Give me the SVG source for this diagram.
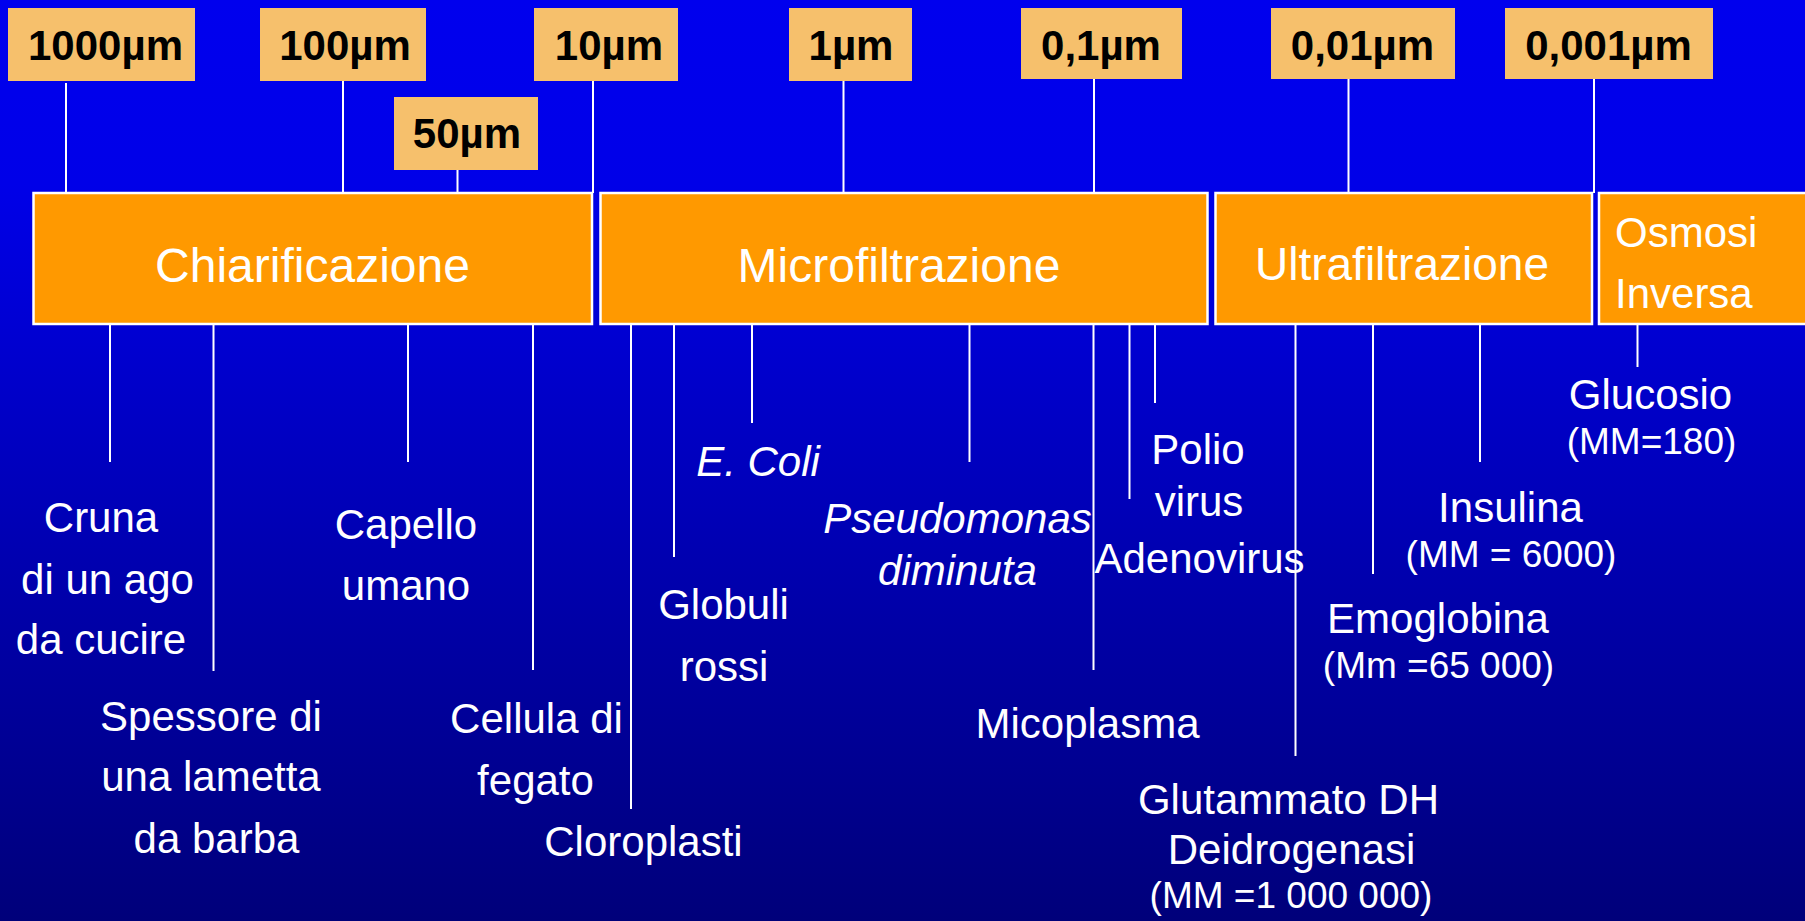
<svg xmlns="http://www.w3.org/2000/svg" width="1805" height="921" viewBox="0 0 1805 921">
<defs>
<linearGradient id="bg" x1="0" y1="0" x2="0" y2="1">
<stop offset="0" stop-color="#0000EE"/>
<stop offset="0.2" stop-color="#0000E8"/>
<stop offset="1" stop-color="#00007A"/>
</linearGradient>
</defs>
<style>
.tag{fill:#F6C06C}
.tagt{font-family:"Liberation Sans",Arial,sans-serif;font-weight:bold;font-size:42px;fill:#000;text-anchor:middle}
.box{fill:#FF9900;stroke:#FFFFFF;stroke-width:2.5}
.boxt{font-family:"Liberation Sans",Arial,sans-serif;font-size:48px;fill:#FFFFFF;text-anchor:middle}
.lbl{font-family:"Liberation Sans",Arial,sans-serif;font-size:42px;fill:#FFFFFF;text-anchor:middle}
.sm{font-size:37px}
.it{font-style:italic}
.con line{stroke:#FFFFFF;stroke-width:2}
</style>
<rect x="0" y="0" width="1805" height="921" fill="url(#bg)"/>

<g id="connectors" class="con">
<line x1="66" y1="83" x2="66" y2="193"/>
<line x1="343" y1="81" x2="343" y2="193"/>
<line x1="457.5" y1="170" x2="457.5" y2="193"/>
<line x1="593" y1="81" x2="593" y2="193"/>
<line x1="843.5" y1="81" x2="843.5" y2="193"/>
<line x1="1094" y1="79" x2="1094" y2="193"/>
<line x1="1348.5" y1="79" x2="1348.5" y2="193"/>
<line x1="1594" y1="79" x2="1594" y2="193"/>
<line x1="110" y1="325" x2="110" y2="462"/>
<line x1="213.5" y1="325" x2="213.5" y2="671"/>
<line x1="408" y1="325" x2="408" y2="462"/>
<line x1="533" y1="325" x2="533" y2="670"/>
<line x1="631" y1="325" x2="631" y2="809"/>
<line x1="674" y1="325" x2="674" y2="557"/>
<line x1="752" y1="325" x2="752" y2="423"/>
<line x1="969.5" y1="325" x2="969.5" y2="462"/>
<line x1="1093.5" y1="325" x2="1093.5" y2="670"/>
<line x1="1129.5" y1="325" x2="1129.5" y2="499"/>
<line x1="1155" y1="325" x2="1155" y2="403"/>
<line x1="1295.5" y1="325" x2="1295.5" y2="756"/>
<line x1="1373" y1="325" x2="1373" y2="574"/>
<line x1="1480" y1="325" x2="1480" y2="462"/>
<line x1="1637.5" y1="325" x2="1637.5" y2="367"/>
</g>

<g id="tag-1000"><rect class="tag" x="8" y="8" width="187" height="73"/><text class="tagt" x="105.5" y="60">1000µm</text></g>
<g id="tag-100"><rect class="tag" x="260" y="8" width="166" height="73"/><text class="tagt" x="345" y="60">100µm</text></g>
<g id="tag-50"><rect class="tag" x="394" y="97" width="144" height="73"/><text class="tagt" x="467" y="148">50µm</text></g>
<g id="tag-10"><rect class="tag" x="534" y="8" width="144" height="73"/><text class="tagt" x="609" y="60">10µm</text></g>
<g id="tag-1"><rect class="tag" x="789" y="8" width="123" height="73"/><text class="tagt" x="851" y="60">1µm</text></g>
<g id="tag-01"><rect class="tag" x="1021" y="8" width="161" height="71"/><text class="tagt" x="1101" y="60">0,1µm</text></g>
<g id="tag-001"><rect class="tag" x="1271" y="8" width="184" height="71"/><text class="tagt" x="1362.5" y="60">0,01µm</text></g>
<g id="tag-0001"><rect class="tag" x="1505" y="8" width="208" height="71"/><text class="tagt" x="1608.5" y="60">0,001µm</text></g>

<g id="chiarificazione"><rect class="box" x="33.5" y="193" width="558.5" height="131"/><text class="boxt" x="312.5" y="282">Chiarificazione</text></g>
<g id="microfiltrazione"><rect class="box" x="600.5" y="193" width="607" height="131"/><text class="boxt" x="899" y="282">Microfiltrazione</text></g>
<g id="ultrafiltrazione"><rect class="box" x="1215.5" y="193" width="376.5" height="131"/><text class="boxt" x="1402" y="280" style="font-size:46px">Ultrafiltrazione</text></g>
<g id="osmosi-inversa"><rect class="box" x="1599" y="193" width="220" height="131"/><text class="lbl" x="1615" y="247" style="text-anchor:start">Osmosi</text><text class="lbl" x="1615" y="308" style="text-anchor:start">Inversa</text></g>

<g id="cruna"><text class="lbl" x="101" y="531.5">Cruna</text><text class="lbl" x="107.5" y="593.5">di un ago</text><text class="lbl" x="101" y="654">da cucire</text></g>
<g id="spessore"><text class="lbl" x="211" y="731">Spessore di</text><text class="lbl" x="211" y="791">una lametta</text><text class="lbl" x="216.5" y="853">da barba</text></g>
<g id="capello"><text class="lbl" x="406" y="539">Capello</text><text class="lbl" x="406" y="600">umano</text></g>
<g id="cellula"><text class="lbl" x="536.5" y="733">Cellula di</text><text class="lbl" x="535.5" y="795">fegato</text></g>
<g id="cloroplasti"><text class="lbl" x="643.5" y="856">Cloroplasti</text></g>
<g id="globuli"><text class="lbl" x="723.5" y="619">Globuli</text><text class="lbl" x="724" y="681">rossi</text></g>
<g id="ecoli"><text class="lbl it" x="758" y="476">E. Coli</text></g>
<g id="pseudomonas"><text class="lbl it" x="957.5" y="533">Pseudomonas</text><text class="lbl it" x="957.5" y="584.5">diminuta</text></g>
<g id="micoplasma"><text class="lbl" x="1087.5" y="738">Micoplasma</text></g>
<g id="polio"><text class="lbl" x="1198" y="464">Polio</text><text class="lbl" x="1199" y="515.5">virus</text></g>
<g id="adenovirus"><text class="lbl" x="1199.5" y="573">Adenovirus</text></g>
<g id="glutammato"><text class="lbl" x="1288.5" y="814">Glutammato DH</text><text class="lbl" x="1291.5" y="864">Deidrogenasi</text><text class="lbl sm" x="1291" y="908">(MM =1 000 000)</text></g>
<g id="emoglobina"><text class="lbl" x="1438" y="633">Emoglobina</text><text class="lbl sm" x="1438.5" y="678">(Mm =65 000)</text></g>
<g id="insulina"><text class="lbl" x="1510.5" y="522">Insulina</text><text class="lbl sm" x="1511" y="567">(MM = 6000)</text></g>
<g id="glucosio"><text class="lbl" x="1650.5" y="409">Glucosio</text><text class="lbl sm" x="1651.5" y="454">(MM=180)</text></g>
</svg>
